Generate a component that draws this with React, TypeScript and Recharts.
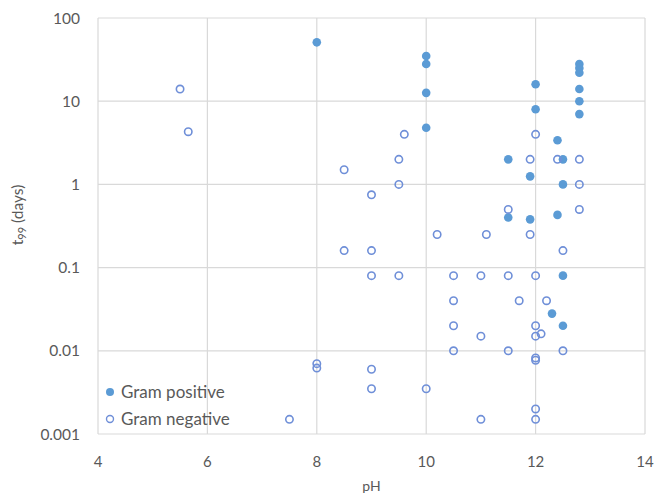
import {
  ScatterChart,
  Scatter,
  XAxis,
  YAxis,
  CartesianGrid,
} from "recharts";

// Gram positive (filled markers)
const posPH = [8, 10, 10, 10, 10, 11.5, 11.5, 11.9, 11.9, 12, 12, 12.4, 12.4, 12.5, 12.5, 12.5, 12.3, 12.5, 12.8, 12.8, 12.8, 12.8, 12.8, 12.8];
const posT99 = [51, 35, 28, 12.6, 4.8, 2, 0.4, 1.25, 0.38, 16, 8, 3.4, 0.43, 2, 1, 0.08, 0.028, 0.02, 28, 25, 22, 14, 10, 7];

// Gram negative (open markers)
const negPH = [
  5.5, 5.65, 7.5, 8, 8, 8.5, 8.5, 9, 9, 9, 9, 9, 9.5, 9.5, 9.5, 9.6, 10, 10.2, 10.5, 10.5, 10.5, 10.5,
  11, 11, 11, 11.1, 11.5, 11.5, 11.5, 11.7, 11.9, 11.9, 12, 12, 12, 12, 12, 12, 12, 12, 12.1, 12.2,
  12.4, 12.5, 12.5, 12.8, 12.8, 12.8,
];
const negT99 = [
  14, 4.3, 0.0015, 0.007, 0.0062, 1.5, 0.16, 0.75, 0.16, 0.08, 0.006, 0.0035, 2, 1, 0.08, 4, 0.0035, 0.25, 0.08, 0.04, 0.02, 0.01,
  0.08, 0.015, 0.0015, 0.25, 0.5, 0.08, 0.01, 0.04, 2, 0.25, 4, 0.08, 0.02, 0.015, 0.0082, 0.0077, 0.002, 0.0015, 0.016, 0.04,
  2, 0.16, 0.01, 2, 1, 0.5,
];

const xTicks = [4, 6, 8, 10, 12, 14];
const yTicks = [0.001, 0.01, 0.1, 1, 10, 100];

const positive = posPH.map((ph, i) => ({ ph, t: posT99[i] }));
const negative = negPH.map((ph, i) => ({ ph, t: negT99[i] }));

const FILL = "#5b9bd5";
const OPEN = "#6f8fd8";
const TEXT = "#595959";
const FONT = "Lato, 'Open Sans', sans-serif";

const FilledDot = (props: any) => (
  <circle cx={props.cx} cy={props.cy} r={4.3} fill={FILL} />
);
const OpenDot = (props: any) => (
  <circle cx={props.cx} cy={props.cy} r={3.7} fill="none" stroke={OPEN} strokeWidth={1.6} />
);

const YLabel = () => {
  const cx = 17;
  const cy = 215;
  return (
    <text
      x={cx}
      y={cy}
      transform={`rotate(-90, ${cx}, ${cy})`}
      textAnchor="middle"
      dominantBaseline="central"
      fill={TEXT}
      fontFamily={FONT}
      fontSize={15.5}
    >
      t<tspan fontSize={11} dy={4}>99</tspan>
      <tspan dy={-4}> (days)</tspan>
    </text>
  );
};

const legendRow = { display: "flex", alignItems: "center", height: 27 } as const;

export default function App() {
  return (
    <div style={{ position: "relative", width: 657, height: 495 }}>
      <style>{"body{margin:0}.recharts-surface{overflow:visible}"}</style>
      <ScatterChart
        width={657}
        height={495}
        margin={{ top: 18, right: 12, left: 0, bottom: 31 }}
      >
        <CartesianGrid stroke="#d9d9d9" strokeWidth={1.2} />
        <XAxis
          type="number"
          dataKey="ph"
          domain={[4, 14]}
          ticks={xTicks}
          axisLine={false}
          tickLine={false}
          tickSize={6}
          tickMargin={16}
          height={30}
          tick={{ fill: TEXT, fontSize: 15, fontFamily: FONT }}
          label={{
            value: "pH",
            position: "insideBottom",
            offset: -27,
            fill: TEXT,
            fontSize: 14,
            fontFamily: FONT,
          }}
        />
        <YAxis
          type="number"
          dataKey="t"
          scale="log"
          domain={[0.001, 100]}
          allowDataOverflow
          ticks={yTicks}
          axisLine={false}
          tickLine={false}
          tickSize={6}
          tickMargin={12}
          width={98}
          tick={{ fill: TEXT, fontSize: 15.5, fontFamily: FONT }}
          tickFormatter={(v: number) => String(v)}
          label={<YLabel />}
        />
        <Scatter
          name="Gram positive"
          data={positive}
          shape={<FilledDot />}
          isAnimationActive={false}
        />
        <Scatter
          name="Gram negative"
          data={negative}
          shape={<OpenDot />}
          isAnimationActive={false}
        />
      </ScatterChart>
      <div
        style={{
          position: "absolute",
          left: 104,
          top: 378,
          fontFamily: FONT,
          fontSize: 17,
          color: TEXT,
        }}
      >
        <div style={legendRow}>
          <svg width={15} height={12}>
            <circle cx={6} cy={6} r={4} fill={FILL} />
          </svg>
          <span style={{ marginLeft: 2 }}>Gram positive</span>
        </div>
        <div style={legendRow}>
          <svg width={15} height={12}>
            <circle cx={6} cy={6} r={3.5} fill="none" stroke={OPEN} strokeWidth={1.4} />
          </svg>
          <span style={{ marginLeft: 2 }}>Gram negative</span>
        </div>
      </div>
    </div>
  );
}
